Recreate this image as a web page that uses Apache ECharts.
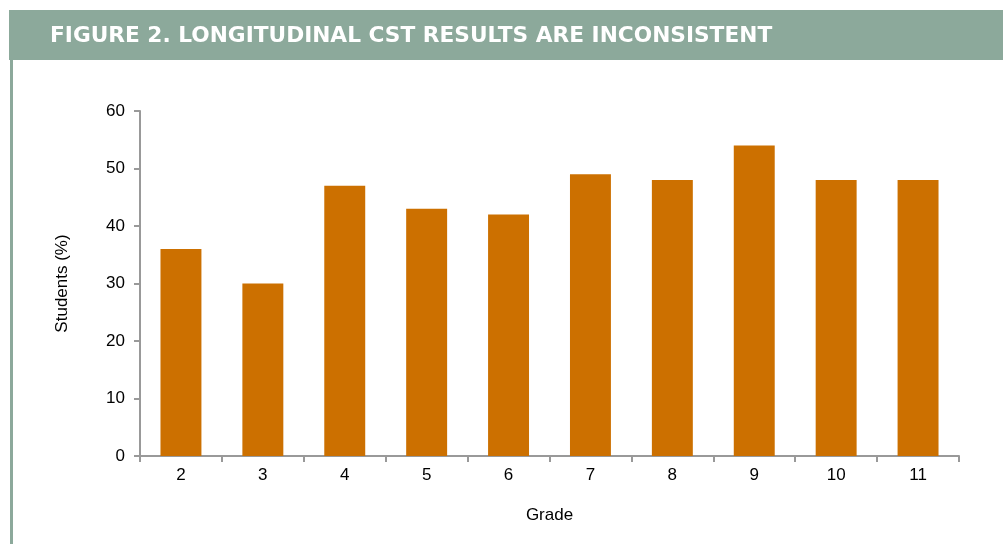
<!DOCTYPE html>
<html>
<head>
<meta charset="utf-8">
<script src="https://cdn.jsdelivr.net/npm/echarts@6/dist/echarts.min.js"></script>
<style>html,body{margin:0;padding:0;background:#fff;}#c{width:1003px;height:544px;}</style>
</head>
<body>
<div id="c"></div>
<script>
const titleText = 'FIGURE 2. LONGITUDINAL CST RESULTS ARE INCONSISTENT';
const grades = ['2','3','4','5','6','7','8','9','10','11'];
const students = [36, 30, 47, 43, 42, 49, 48, 54, 48, 48];
const yTicks = {min: 0, max: 60, interval: 10};

const FONT = 'Liberation Sans, Arial, sans-serif';
const chart = echarts.init(document.getElementById('c'), null, {renderer: 'canvas'});
chart.setOption({
  animation: false,
  backgroundColor: '#fff',
  graphic: [
    {type: 'rect', shape: {x: 9, y: 10, width: 994, height: 50}, style: {fill: '#8CA99B'}, z: 0},
    {type: 'rect', shape: {x: 10, y: 60, width: 3, height: 484}, style: {fill: '#8CA99B'}, z: 0},
    {type: 'text', left: 50, top: 25, style: {text: titleText, fill: '#fff', font: 'bold 21.7px "DejaVu Sans", Verdana, sans-serif'}, z: 10}
  ],
  grid: {left: 140, right: 44, top: 111, bottom: 88},
  xAxis: {
    type: 'category',
    data: grades,
    name: 'Grade',
    nameLocation: 'middle',
    nameGap: 51,
    nameTextStyle: {color: '#000', fontSize: 17, fontFamily: FONT},
    axisLine: {lineStyle: {color: '#999', width: 2}},
    axisTick: {show: true, alignWithLabel: false, length: 6, lineStyle: {color: '#999', width: 2}},
    axisLabel: {color: '#000', fontSize: 17, fontFamily: FONT, margin: 11}
  },
  yAxis: {
    type: 'value',
    min: yTicks.min, max: yTicks.max, interval: yTicks.interval,
    name: 'Students (%)',
    nameLocation: 'middle',
    nameGap: 69,
    nameRotate: 90,
    nameTextStyle: {color: '#000', fontSize: 17, fontFamily: FONT},
    axisLine: {show: true, lineStyle: {color: '#999', width: 2}},
    axisTick: {show: true, length: 6, lineStyle: {color: '#999', width: 2}},
    splitLine: {show: false},
    axisLabel: {color: '#000', fontSize: 17, fontFamily: FONT, margin: 15}
  },
  series: [{
    type: 'bar',
    data: students,
    barWidth: '50%',
    itemStyle: {color: '#CC7000'}
  }]
});
</script>
</body>
</html>
